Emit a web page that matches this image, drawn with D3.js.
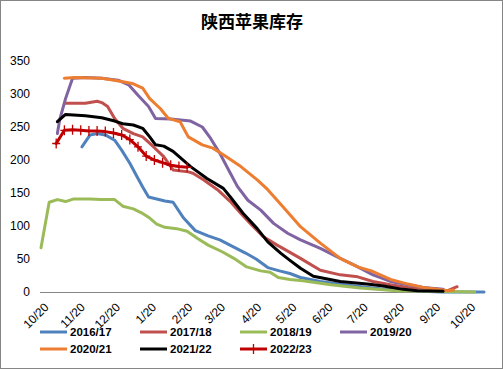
<!DOCTYPE html>
<html>
<head>
<meta charset="utf-8">
<script src="https://cdn.jsdelivr.net/npm/d3@7"></script>
<style>
  body { margin: 0; background: #fff; }
  svg { display: block; font-family: "Liberation Sans", Arial, sans-serif; }
</style>
</head>
<body>
<div id="chart"></div>
<script>
// season labels + colours
var seasons = ["2016/17", "2017/18", "2018/19", "2019/20", "2020/21", "2021/22", "2022/23"];
var colors = ["#4f81bd", "#c0504d", "#9bbb59", "#8064a2", "#ed7d31", "#000000", "#c00000"];
var yTicks = [0, 50, 100, 150, 200, 250, 300, 350];

// inventory (10k tons) by date
var s1617 = [["11/24",220],["12/1",238],["12/7",240],["12/14",238],["12/22",230],["12/28",215],["1/4",195],["1/11",172],["1/15",159],["1/20",144],["2/3",138],["2/10",136],["2/19",112],["3/1",93],["3/12",85],["3/22",79],["4/3",68],["4/13",59],["4/22",50],["5/2",37],["5/12",32],["5/21",28],["5/30",22],["6/16",16],["7/12",10],["8/6",5],["9/1",2],["9/27",0],["11/3",0]];
var s1718 = [["11/9",286],["11/27",286],["12/7",289],["12/11",287],["12/16",281],["12/22",263],["12/29",248],["1/7",240],["1/15",235],["1/23",222],["2/2",205],["2/10",185],["2/23",182],["2/27",180],["3/8",170],["3/20",155],["3/31",137],["4/9",119],["4/17",104],["4/28",84],["5/10",71],["5/21",60],["5/30",51],["6/16",33],["7/3",26],["7/18",23],["7/31",16],["8/15",11],["8/30",7],["9/12",5],["9/24",4],["10/3",2],["10/11",8]];
var s1819 = [["10/20",67],["10/27",136],["11/3",140],["11/10",137],["11/17",141],["12/1",141],["12/10",140],["12/22",140],["12/29",130],["1/7",126],["1/14",120],["1/21",112],["1/27",103],["2/3",98],["2/13",96],["2/22",92],["3/3",81],["3/12",71],["3/24",61],["4/3",51],["4/14",38],["4/26",32],["5/4",30],["5/11",22],["5/21",19],["6/1",17],["6/25",11],["7/20",6],["8/20",2],["9/18",1],["10/26",0]];
var s1920 = [["11/3",240],["11/5",261],["11/10",293],["11/16",324],["11/27",325],["12/11",324],["12/25",321],["1/3",314],["1/11",298],["1/20",281],["1/26",263],["2/8",262],["2/25",259],["3/7",250],["3/14",233],["3/22",210],["3/31",180],["4/6",160],["4/15",139],["4/26",124],["5/7",104],["5/19",89],["5/30",79],["6/16",66],["7/3",51],["7/18",38],["7/31",26],["8/15",16],["8/30",11],["9/12",7],["9/29",4]];
var s2021 = [["11/9",324],["11/18",325],["12/11",324],["12/28",319],["1/6",316],["1/15",309],["1/21",293],["1/30",278],["2/6",263],["2/16",258],["2/23",235],["3/7",223],["3/16",218],["3/25",208],["4/9",190],["4/23",170],["5/2",155],["5/15",129],["5/30",99],["6/16",74],["7/3",51],["7/18",38],["7/31",31],["8/15",19],["8/30",12],["9/12",7],["9/24",4],["10/3",2],["10/8",3]];
var s2122 = [["11/3",258],["11/10",269],["11/27",267],["12/11",264],["12/22",259],["12/29",255],["1/7",253],["1/15",248],["1/21",235],["1/26",223],["2/2",221],["2/10",213],["2/25",190],["3/11",172],["3/25",157],["3/31",144],["4/11",119],["4/23",96],["5/2",76],["5/13",59],["5/21",48],["5/30",36],["6/10",24],["7/3",16],["7/26",12],["8/9",9],["8/26",4],["9/7",2],["9/29",1]];
var s2223 = [["11/2",225],["11/9",245],["11/16",246],["11/23",245],["11/30",244],["12/7",244],["12/14",243],["12/21",241],["12/28",238],["1/4",231],["1/11",220],["1/18",206],["1/25",200],["2/1",196],["2/8",192],["2/15",190],["2/22",189]];

var allSeries = [s1617, s1718, s1819, s1920, s2021, s2122, s2223];

var W = 503, H = 369;

// season runs oct -> next oct, put everything on a dummy 2000/01 year
function toDates(arr) {
    var prev = null;
    return arr.map(function (p) {
        var md = p[0].split("/");
        var m = +md[0], d = +md[1];
        var dt = new Date(m >= 10 ? 2000 : 2001, m - 1, d);
        if (prev && dt < prev) dt.setFullYear(2001);
        prev = dt;
        return { date: dt, value: p[1] };
    });
}

var svg = d3.select("#chart")
    .append("svg")
    .attr("width", W)
    .attr("height", H);

// chart border
svg.append("rect")
    .attr("x", 0.5).attr("y", 0.5)
    .attr("width", W - 1).attr("height", H - 1)
    .attr("fill", "#fff")
    .attr("stroke", "#868686");

// TITLE
svg.append("text")
    .attr("x", 252)
    .attr("y", 28)
    .attr("text-anchor", "middle")
    .attr("font-family", "'Noto Sans CJK SC', sans-serif")
    .attr("font-weight", "bold")
    .attr("font-size", "17px")
    .text("陕西苹果库存");

// SCALES
var x = d3.scaleTime()
    .domain([new Date(2000, 9, 20), new Date(2001, 10, 3)])
    .range([41, 484]);

var y = d3.scaleLinear()
    .domain([0, 350])
    .range([292, 61]);

// Y AXIS (labels only)
svg.append("g")
    .selectAll("text")
    .data(yTicks)
    .enter()
    .append("text")
    .attr("x", 30)
    .attr("y", function (d) { return y(d); })
    .attr("dy", "0.35em")
    .attr("text-anchor", "end")
    .attr("font-size", "12px")
    .attr("fill", "#000")
    .text(function (d) { return d; });

// X AXIS
var xTicks = d3.timeMonth.range(new Date(2000, 9, 1), new Date(2001, 10, 1))
    .map(function (d) { return new Date(d.getFullYear(), d.getMonth(), 20); });

var xAxis = d3.axisBottom(x)
    .tickValues(xTicks)
    .tickSize(0)
    .tickFormat(d3.timeFormat("%-m/%-d"));

var xAxisGroup = svg.append("g")
    .attr("transform", "translate(0,292)")
    .call(xAxis);

xAxisGroup.select(".domain")
    .attr("d", "M40,0.5H484")
    .attr("stroke", "#868686");

xAxisGroup.selectAll("text")
    .attr("font-size", "12px")
    .attr("font-family", "'Liberation Sans', Arial, sans-serif")
    .attr("fill", "#000")
    .attr("text-anchor", "end")
    .attr("dy", "0.7em")
    .attr("transform", "translate(0,8) rotate(-45)");

// LINES
var line = d3.line()
    .x(function (d) { return x(d.date); })
    .y(function (d) { return y(d.value); });

allSeries.forEach(function (s, i) {
    var pts = toDates(s);
    svg.append("path")
        .datum(pts)
        .attr("fill", "none")
        .attr("stroke", colors[i])
        .attr("stroke-width", 3)
        .attr("stroke-linejoin", "round")
        .attr("stroke-linecap", "round")
        .attr("d", line);

    // 2022/23 has + markers
    if (i == 6) {
        svg.append("g")
            .selectAll("path")
            .data(pts)
            .enter()
            .append("path")
            .attr("d", function (d) {
                var cx = x(d.date), cy = y(d.value);
                return "M" + (cx - 4) + "," + cy + "H" + (cx + 4) + "M" + cx + "," + (cy - 5) + "V" + (cy + 5);
            })
            .attr("stroke", colors[i])
            .attr("stroke-width", 1.3);
    }
});

// LEGEND
var legend = svg.append("g");
seasons.forEach(function (name, i) {
    var lx = 40 + (i % 4) * 100;
    var ly = 332 + Math.floor(i / 4) * 17;
    legend.append("line")
        .attr("x1", lx).attr("x2", lx + 27)
        .attr("y1", ly).attr("y2", ly)
        .attr("stroke", colors[i])
        .attr("stroke-width", 3);
    if (i == 6) {
        legend.append("path")
            .attr("d", "M" + (lx + 9.5) + "," + ly + "H" + (lx + 17.5) + "M" + (lx + 13.5) + "," + (ly - 5) + "V" + (ly + 5))
            .attr("stroke", colors[i])
            .attr("stroke-width", 1.3);
    }
    legend.append("text")
        .attr("x", lx + 30)
        .attr("y", ly)
        .attr("dy", "0.35em")
        .attr("font-size", "11.5px")
        .attr("font-weight", "bold")
        .text(name);
});
</script>
</body>
</html>
